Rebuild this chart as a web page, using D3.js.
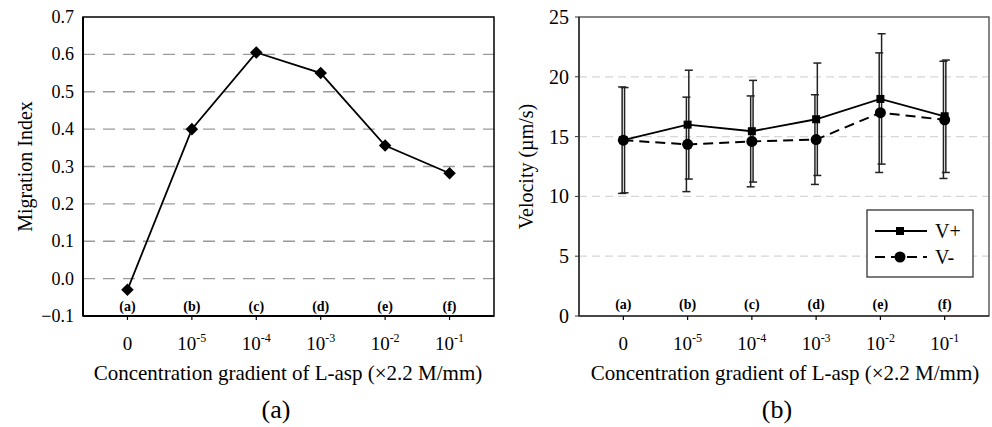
<!DOCTYPE html>
<html>
<head>
<meta charset="utf-8">
<script src="https://cdn.jsdelivr.net/npm/d3@7"></script>
<style>
  body { margin: 0; background: #fff; }
  svg { font-family: "Liberation Serif", "DejaVu Serif", serif; }
</style>
</head>
<body>
<svg id="chart" width="992" height="427"></svg>
<script>
// categories
let letters = ["(a)", "(b)", "(c)", "(d)", "(e)", "(f)"];
let concExp = ["", "-5", "-4", "-3", "-2", "-1"];

// panel (a)
let migrationIndex = [-0.03, 0.40, 0.605, 0.55, 0.356, 0.282];
let migTicks = [-0.1, 0.0, 0.1, 0.2, 0.3, 0.4, 0.5, 0.6, 0.7];

// panel (b)
let vPlus = [14.7, 16.0, 15.45, 16.45, 18.15, 16.7];
let vPlusErr = [4.4, 4.55, 4.25, 4.7, 5.45, 4.7];
let vMinus = [14.7, 14.35, 14.6, 14.75, 17.0, 16.4];
let vMinusErr = [4.45, 3.95, 3.8, 3.75, 5.0, 4.9];
let velTicks = [0, 5, 10, 15, 20, 25];

let svg = d3.select("#chart");

function drawXAxis(g, x, yBottom, letterY) {
    // letters inside plot
    g.selectAll(".lett").data(letters).enter().append("text")
        .attr("x", (d, i) => x(i))
        .attr("y", letterY)
        .attr("text-anchor", "middle")
        .attr("font-size", 14)
        .attr("font-weight", "bold")
        .text(d => d);
    // ticks
    g.selectAll(".xt").data(letters).enter().append("line")
        .attr("x1", (d, i) => x(i)).attr("x2", (d, i) => x(i))
        .attr("y1", yBottom).attr("y2", yBottom + 4)
        .attr("stroke", "#000").attr("stroke-width", 1.2);
    // tick labels
    let lab = g.selectAll(".xl").data(concExp).enter().append("text")
        .attr("x", (d, i) => x(i))
        .attr("y", yBottom + 34)
        .attr("text-anchor", "middle")
        .attr("font-size", 19);
    lab.each(function (d) {
        let t = d3.select(this);
        if (d === "") {
            t.text("0");
        } else {
            t.append("tspan").text("10");
            t.append("tspan").attr("dy", -8).attr("font-size", 12).text(d);
        }
    });
}

// ---------- panel (a) ----------
let m1 = {left: 83, right: 494, top: 17, bottom: 316};
let x1 = d3.scalePoint().domain(d3.range(6)).range([m1.left, m1.right]).padding(0.69);
let y1 = d3.scaleLinear().domain([-0.1, 0.7]).range([m1.bottom, m1.top]);
let g1 = svg.append("g");

g1.selectAll(".grid").data(migTicks.filter(d => d > -0.05 && d < 0.65)).enter().append("line")
    .attr("x1", m1.left).attr("x2", m1.right)
    .attr("y1", d => y1(d)).attr("y2", d => y1(d))
    .attr("stroke", "#9a9a9a").attr("stroke-width", 1.3)
    .attr("stroke-dasharray", "12,8");

g1.append("rect")
    .attr("x", m1.left).attr("y", m1.top)
    .attr("width", m1.right - m1.left).attr("height", m1.bottom - m1.top)
    .attr("fill", "none").attr("stroke", "#000").attr("stroke-width", 1.5);
g1.append("line").attr("x1", m1.left).attr("x2", m1.left).attr("y1", m1.top).attr("y2", m1.bottom)
    .attr("stroke", "#000").attr("stroke-width", 2);
g1.append("line").attr("x1", m1.left).attr("x2", m1.right).attr("y1", m1.bottom).attr("y2", m1.bottom)
    .attr("stroke", "#000").attr("stroke-width", 2);

g1.selectAll(".yl").data(migTicks).enter().append("text")
    .attr("x", m1.left - 9).attr("y", d => y1(d) + 6)
    .attr("text-anchor", "end").attr("font-size", 18)
    .text(d => d3.format(".1f")(d));

g1.append("path")
    .datum(migrationIndex)
    .attr("d", d3.line().x((d, i) => x1(i)).y(d => y1(d)))
    .attr("fill", "none").attr("stroke", "#000").attr("stroke-width", 1.8);

g1.selectAll(".dia").data(migrationIndex).enter().append("path")
    .attr("d", d3.symbol().type(d3.symbolDiamond2).size(100))
    .attr("transform", (d, i) => "translate(" + x1(i) + "," + y1(d) + ")")
    .attr("fill", "#000");

drawXAxis(g1, x1, m1.bottom, m1.bottom - 5);

g1.append("text")
    .attr("transform", "translate(32," + ((m1.top + m1.bottom) / 2) + ") rotate(-90)")
    .attr("text-anchor", "middle").attr("font-size", 20)
    .text("Migration Index");
g1.append("text")
    .attr("x", 288).attr("y", 380)
    .attr("text-anchor", "middle").attr("font-size", 21)
    .text("Concentration gradient of L-asp (\u00d72.2 M/mm)");
g1.append("text")
    .attr("x", 276).attr("y", 418)
    .attr("text-anchor", "middle").attr("font-size", 26)
    .text("(a)");

// ---------- panel (b) ----------
let m2 = {left: 579, right: 989, top: 17, bottom: 316};
let x2 = d3.scalePoint().domain(d3.range(6)).range([m2.left, m2.right]).padding(0.69);
let y2 = d3.scaleLinear().domain([0, 25]).range([m2.bottom, m2.top]);
let g2 = svg.append("g");

g2.selectAll(".grid").data(velTicks.filter(d => d > 0 && d < 25)).enter().append("line")
    .attr("x1", m2.left).attr("x2", m2.right)
    .attr("y1", d => y2(d)).attr("y2", d => y2(d))
    .attr("stroke", "#d6d6d6").attr("stroke-width", 1.2)
    .attr("stroke-dasharray", "8,5");

g2.append("rect")
    .attr("x", m2.left).attr("y", m2.top)
    .attr("width", m2.right - m2.left).attr("height", m2.bottom - m2.top)
    .attr("fill", "none").attr("stroke", "#444").attr("stroke-width", 1.3);
g2.append("line").attr("x1", m2.left).attr("x2", m2.left).attr("y1", m2.top).attr("y2", m2.bottom)
    .attr("stroke", "#333").attr("stroke-width", 1.6);
g2.append("line").attr("x1", m2.left).attr("x2", m2.right).attr("y1", m2.bottom).attr("y2", m2.bottom)
    .attr("stroke", "#333").attr("stroke-width", 1.6);

g2.selectAll(".ytk").data(velTicks).enter().append("line")
    .attr("x1", m2.left - 4).attr("x2", m2.left)
    .attr("y1", d => y2(d)).attr("y2", d => y2(d))
    .attr("stroke", "#333").attr("stroke-width", 1);
g2.selectAll(".yl").data(velTicks).enter().append("text")
    .attr("x", m2.left - 10).attr("y", d => y2(d) + 7)
    .attr("text-anchor", "end").attr("font-size", 20)
    .text(d => d);

// error bars
function errBars(vals, errs, dx) {
    let eb = g2.append("g");
    vals.forEach((v, i) => {
        let cx = x2(i) + dx;
        let top = y2(v + errs[i]), bot = y2(v - errs[i]);
        eb.append("line").attr("x1", cx).attr("x2", cx).attr("y1", top).attr("y2", bot)
            .attr("stroke", "#222").attr("stroke-width", 1.5);
        [top, bot].forEach(yy => {
            eb.append("line").attr("x1", cx - 4).attr("x2", cx + 4).attr("y1", yy).attr("y2", yy)
                .attr("stroke", "#222").attr("stroke-width", 1.5);
        });
    });
}
errBars(vMinus, vMinusErr, -1.2);
errBars(vPlus, vPlusErr, 1.2);

let line2 = d3.line().x((d, i) => x2(i)).y(d => y2(d));
g2.append("path").datum(vMinus).attr("d", line2)
    .attr("fill", "none").attr("stroke", "#000").attr("stroke-width", 2)
    .attr("stroke-dasharray", "10,6");
g2.append("path").datum(vPlus).attr("d", line2)
    .attr("fill", "none").attr("stroke", "#000").attr("stroke-width", 1.8);

g2.selectAll(".circ").data(vMinus).enter().append("circle")
    .attr("cx", (d, i) => x2(i)).attr("cy", d => y2(d)).attr("r", 5.5)
    .attr("fill", "#000");
g2.selectAll(".sq").data(vPlus).enter().append("rect")
    .attr("x", (d, i) => x2(i) - 4).attr("y", d => y2(d) - 4)
    .attr("width", 8).attr("height", 8)
    .attr("fill", "#000");

drawXAxis(g2, x2, m2.bottom, m2.bottom - 7);

// legend
let lg = g2.append("g");
lg.append("rect").attr("x", 867).attr("y", 210).attr("width", 106).attr("height", 67)
    .attr("fill", "#fff").attr("stroke", "#333").attr("stroke-width", 1.3);
lg.append("line").attr("x1", 875).attr("x2", 927).attr("y1", 231).attr("y2", 231)
    .attr("stroke", "#000").attr("stroke-width", 1.8);
lg.append("rect").attr("x", 896).attr("y", 227).attr("width", 8).attr("height", 8).attr("fill", "#000");
lg.append("line").attr("x1", 875).attr("x2", 927).attr("y1", 257).attr("y2", 257)
    .attr("stroke", "#000").attr("stroke-width", 2).attr("stroke-dasharray", "10,6");
lg.append("circle").attr("cx", 900).attr("cy", 257).attr("r", 5.5).attr("fill", "#000");
lg.append("text").attr("x", 935).attr("y", 238).attr("font-size", 20).text("V+");
lg.append("text").attr("x", 935).attr("y", 264).attr("font-size", 20).text("V-");

g2.append("text")
    .attr("transform", "translate(533," + ((m2.top + m2.bottom) / 2) + ") rotate(-90)")
    .attr("text-anchor", "middle").attr("font-size", 20)
    .text("Velocity (\u00b5m/s)");
g2.append("text")
    .attr("x", 785).attr("y", 380)
    .attr("text-anchor", "middle").attr("font-size", 21)
    .text("Concentration gradient of L-asp (\u00d72.2 M/mm)");
g2.append("text")
    .attr("x", 777).attr("y", 418)
    .attr("text-anchor", "middle").attr("font-size", 26)
    .text("(b)");
</script>
</body>
</html>
